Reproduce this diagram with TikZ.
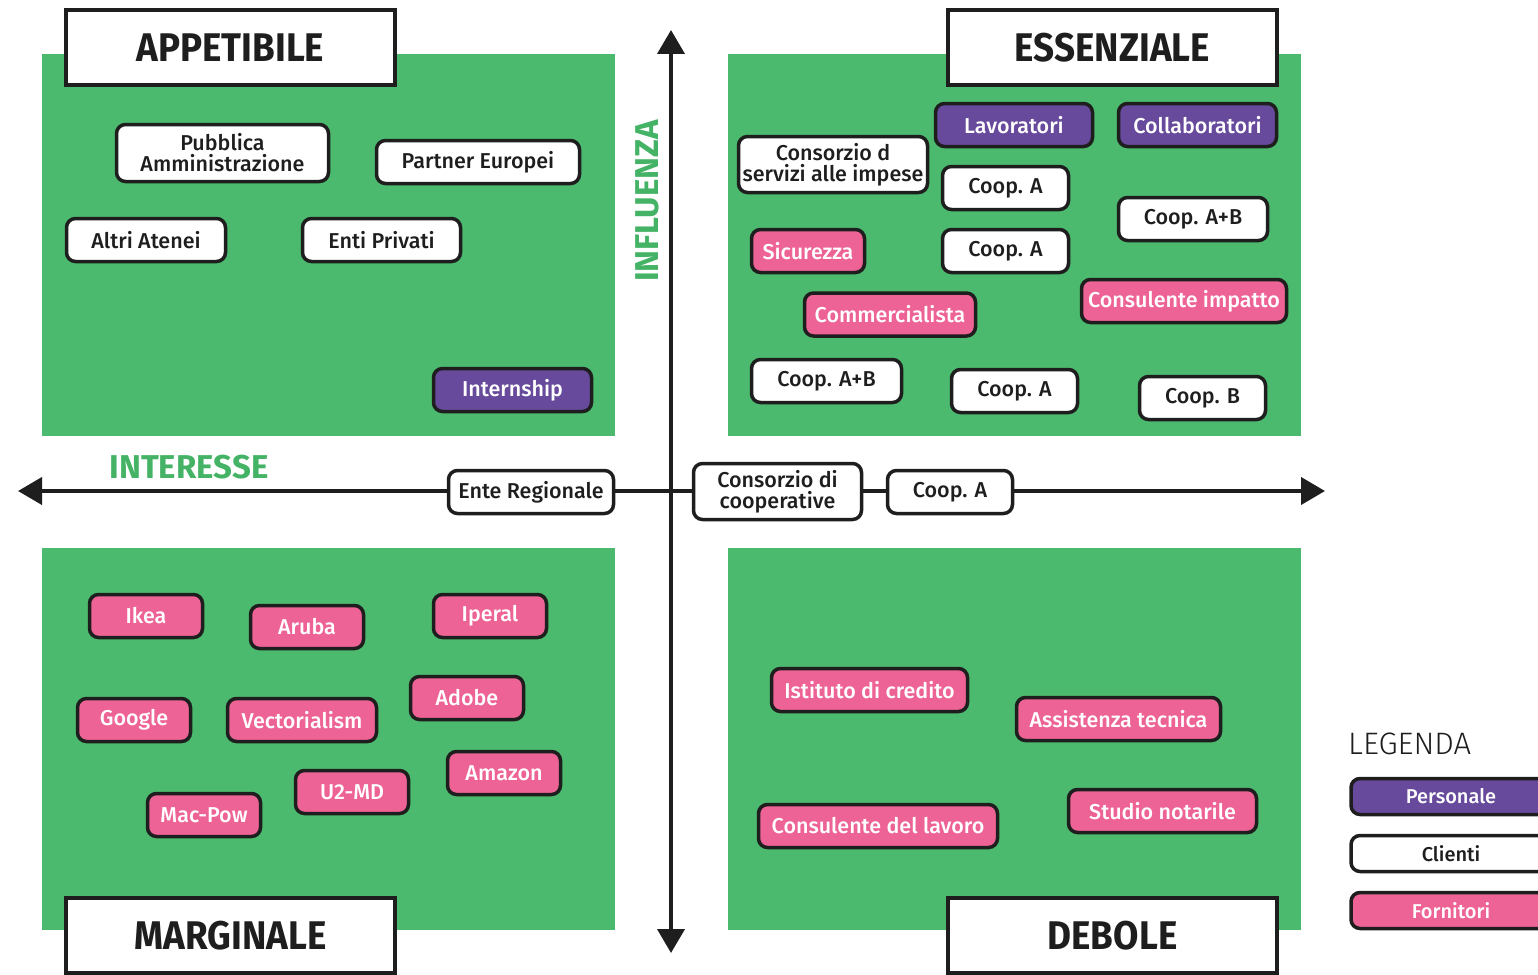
\documentclass[tikz,border=0pt]{standalone}
\usepackage{fontspec}
\usetikzlibrary{arrows.meta}
\setmainfont{Fira Sans}[UprightFont={* Medium}, BoldFont={* Bold}]
\newfontfamily\titlefont[FakeStretch=0.92]{Fira Sans}
\newfontfamily\lightfont{Fira Sans}[UprightFont={* Light}]
\definecolor{greenbg}{HTML}{4BB96E}
\definecolor{greentxt}{HTML}{45B366}
\definecolor{purp}{HTML}{674A9C}
\definecolor{pinkc}{HTML}{EE6395}
\definecolor{ink}{HTML}{1E1E1E}
\begin{document}
\begin{tikzpicture}[x=1pt,y=-1pt,
  pill/.style={draw=ink, line width=3.5pt, rounded corners=9pt, minimum height=43pt,
    inner sep=0pt, font=\fontsize{21.5}{21}\selectfont, align=center, text=ink, fill=white},
  per/.style={pill, fill=purp, text=white},
  forn/.style={pill, fill=pinkc, text=white},
  cli/.style={pill},
  titlebox/.style={draw=ink, line width=4pt, fill=white, minimum width=329pt, minimum height=75pt,
    inner sep=0pt, font=\titlefont\bfseries\fontsize{40}{40}\selectfont, text=ink},
  quad/.style={fill=greenbg},
  axislbl/.style={text=greentxt, font=\bfseries\fontsize{33}{33}\selectfont, inner sep=0pt},
  axisline/.style={line width=4pt, draw=ink, {Triangle[width=27pt,length=24pt]}-{Triangle[width=27pt,length=24pt]}},
  legbox/.style={pill, minimum width=200pt, minimum height=36pt, font=\fontsize{20}{20}\selectfont}
]
\useasboundingbox (0,0) rectangle (1538,974);
% quadrants
\fill[quad] (42,54) rectangle (615,436);
\fill[quad] (728,54) rectangle (1301,436);
\fill[quad] (42,548) rectangle (615,930);
\fill[quad] (728,548) rectangle (1301,930);
% axes
\coordinate (xl) at (18,491);
\coordinate (xr) at (1325,491);
\coordinate (yt) at (671,30);
\coordinate (yb) at (671,953);
\draw[axisline] (xl) -- (xr);
\draw[axisline] (yb) -- (yt);
\node[axislbl, rotate=90] (infl) at (647,201) {INFLUENZA};
\node[axislbl] (inter) at (189,467) {INTERESSE};
% titles
\node[titlebox] (t1) at (230.5,47.5) {APPETIBILE};
\node[titlebox] (t2) at (1112.5,47.5) {ESSENZIALE};
\node[titlebox] (t3) at (230.5,935.5) {MARGINALE};
\node[titlebox] (t4) at (1112.5,935.5) {DEBOLE};
% top-left
\node[cli, minimum width=212pt, minimum height=57pt] (pa) at (222.5,153) {Pubblica\\Amministrazione};
\node[cli, minimum width=203pt] (pe) at (478,162) {Partner Europei};
\node[cli, minimum width=159pt] (aa) at (146,240) {Altri Atenei};
\node[cli, minimum width=158pt] (ep) at (381.5,240) {Enti Privati};
\node[per, minimum width=158pt] (int) at (512.5,390) {Internship};
% top-right
\node[per, minimum width=157pt] (lav) at (1014,125) {Lavoratori};
\node[per, minimum width=158pt] (col) at (1197.5,125) {Collaboratori};
\node[cli, minimum width=189pt, minimum height=56pt] (csi) at (833,164.5) {Consorzio d\\servizi alle impese};
\node[cli, minimum width=126pt] (ca1) at (1005.5,188) {Coop. A};
\node[cli, minimum width=149pt] (cab1) at (1193,219) {Coop. A+B};
\node[forn, minimum width=113pt] (sic) at (808,251) {Sicurezza};
\node[cli, minimum width=126pt] (ca2) at (1005.5,251) {Coop. A};
\node[forn, minimum width=205pt] (ci) at (1184,301) {Consulente impatto};
\node[forn, minimum width=171pt] (comm) at (890,314.5) {Commercialista};
\node[cli, minimum width=150pt] (cab2) at (826.5,381) {Coop. A+B};
\node[cli, minimum width=126pt] (ca3) at (1014.5,391) {Coop. A};
\node[cli, minimum width=126pt] (cb) at (1202.5,398) {Coop. B};
% middle
\node[cli, minimum width=165pt] (er) at (531,492) {Ente Regionale};
\node[cli, minimum width=168pt, minimum height=56pt] (cc) at (777.5,491.5) {Consorzio di\\cooperative};
\node[cli, minimum width=125pt] (ca4) at (950,492) {Coop. A};
% bottom-left
\node[forn, minimum width=113pt] (ikea) at (146,616) {Ikea};
\node[forn, minimum width=113pt] (aruba) at (307,627) {Aruba};
\node[forn, minimum width=113pt] (iperal) at (490,616) {Iperal};
\node[forn, minimum width=113pt] (adobe) at (467,698) {Adobe};
\node[forn, minimum width=113pt] (google) at (134,720) {Google};
\node[forn, minimum width=149pt] (vect) at (302,720) {Vectorialism};
\node[forn, minimum width=113pt] (amazon) at (504,773) {Amazon};
\node[forn, minimum width=113pt] (u2) at (352,792) {U2-MD};
\node[forn, minimum width=113pt] (mac) at (204,815) {Mac-Pow};
% bottom-right
\node[forn, minimum width=196pt] (idc) at (869.5,690) {Istituto di credito};
\node[forn, minimum width=204pt] (at) at (1118.5,719) {Assistenza tecnica};
\node[forn, minimum width=239pt] (cdl) at (878,826) {Consulente del lavoro};
\node[forn, minimum width=188pt] (sn) at (1162.5,811) {Studio notarile};
% legend
\node[anchor=west, inner sep=0pt, text=ink, font=\lightfont\fontsize{31}{31}\selectfont] (leg) at (1348,744) {LEGENDA};
\node[legbox, fill=purp, text=white] (lp) at (1451,796.5) {Personale};
\node[legbox] (lc) at (1451,853.5) {Clienti};
\node[legbox, fill=pinkc, text=white] (lf) at (1451,910.5) {Fornitori};
\end{tikzpicture}
\end{document}
